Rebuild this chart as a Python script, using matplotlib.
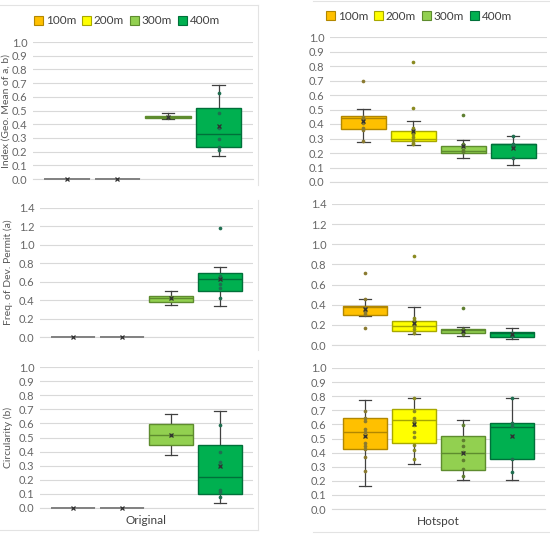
import numpy as np
import matplotlib
matplotlib.use('Agg')
import matplotlib.pyplot as plt
from matplotlib.lines import Line2D
from matplotlib.patches import Patch

plt.rcParams['font.family'] = ['Lato', 'DejaVu Sans']

W, H = 550, 542

series = ['100m', '200m', '300m', '400m']
fills = ['#FFC000', '#FFFF00', '#92D050', '#00B050']
edges = ['#B28700', '#A8A800', '#5E8C2E', '#00703A']
dots = ['#8A7A30', '#8A8A20', '#5E7E30', '#1F6E50']

# box stats per series: [whisker low, q1, median, q3, whisker high]
orig_index_box = [[0, 0, 0, 0, 0], [0, 0, 0, 0, 0],
                  [0.44, 0.448, 0.455, 0.462, 0.48], [0.17, 0.23, 0.33, 0.52, 0.685]]
orig_index_mean = [0, 0, 0.455, 0.385]
orig_index_pts = [[], [], [0.455], [0.625, 0.48, 0.37, 0.295, 0.235, 0.21]]

hot_index_box = [[0.275, 0.365, 0.44, 0.455, 0.505], [0.255, 0.285, 0.30, 0.355, 0.42],
                 [0.165, 0.20, 0.215, 0.25, 0.29], [0.12, 0.165, 0.26, 0.265, 0.315]]
hot_index_mean = [0.42, 0.35, 0.245, 0.235]
hot_index_pts = [[0.70, 0.45, 0.43, 0.41, 0.37, 0.36, 0.28],
                 [0.83, 0.51, 0.37, 0.355, 0.33, 0.31, 0.29, 0.27, 0.26],
                 [0.465, 0.26, 0.245, 0.22, 0.21],
                 [0.315, 0.26, 0.24, 0.165]]

orig_freq_box = [[0, 0, 0, 0, 0], [0, 0, 0, 0, 0],
                 [0.35, 0.38, 0.42, 0.45, 0.50], [0.34, 0.50, 0.63, 0.69, 0.76]]
orig_freq_mean = [0, 0, 0.42, 0.63]
orig_freq_pts = [[], [], [0.42], [1.18, 0.66, 0.64, 0.58, 0.53, 0.42]]

hot_freq_box = [[0.29, 0.30, 0.38, 0.39, 0.46], [0.11, 0.14, 0.19, 0.24, 0.375],
                [0.09, 0.12, 0.15, 0.16, 0.18], [0.055, 0.08, 0.115, 0.125, 0.165]]
hot_freq_mean = [0.36, 0.22, 0.14, 0.105]
hot_freq_pts = [[0.71, 0.46, 0.37, 0.35, 0.33, 0.31, 0.17],
                [0.88, 0.27, 0.25, 0.23, 0.21, 0.19, 0.16, 0.12],
                [0.37, 0.16, 0.14, 0.13, 0.11],
                [0.12, 0.10, 0.09]]

orig_circ_box = [[0, 0, 0, 0, 0], [0, 0, 0, 0, 0],
                 [0.378, 0.45, 0.52, 0.598, 0.667], [0.038, 0.097, 0.222, 0.45, 0.688]]
orig_circ_mean = [0, 0, 0.52, 0.30]
orig_circ_pts = [[], [], [0.52], [0.586, 0.397, 0.326, 0.296, 0.13, 0.113, 0.078]]

hot_circ_box = [[0.163, 0.426, 0.546, 0.643, 0.771], [0.319, 0.466, 0.629, 0.707, 0.787],
                [0.208, 0.277, 0.397, 0.515, 0.629], [0.208, 0.355, 0.584, 0.61, 0.787]]
hot_circ_mean = [0.515, 0.60, 0.40, 0.515]
hot_circ_pts = [[0.693, 0.645, 0.622, 0.570, 0.544, 0.515, 0.468, 0.444, 0.426, 0.366, 0.272],
                [0.787, 0.697, 0.645, 0.622, 0.593, 0.544, 0.508, 0.456, 0.421, 0.355],
                [0.593, 0.492, 0.444, 0.404, 0.350, 0.286, 0.236],
                [0.787, 0.61, 0.586, 0.518, 0.355, 0.262]]


def px_rect(l, t, r, b):
    return [l / W, 1 - b / H, (r - l) / W, (b - t) / H]


fig = plt.figure(figsize=(W / 100, H / 100), dpi=100)


def panel(rect, box, means, pts, ymax, step, ylabel=None, ylab_x=None, xlabel=None):
    ax = fig.add_axes(px_rect(*rect))
    pos = np.arange(1, 5)
    stats = []
    for b, m in zip(box, means):
        stats.append(dict(whislo=b[0], q1=b[1], med=b[2], q3=b[3], whishi=b[4],
                          mean=m, fliers=[]))
    bp = ax.bxp(stats, positions=pos, widths=0.9, patch_artist=True, showmeans=True,
                capwidths=0.25, showfliers=False,
                meanprops=dict(marker='x', markersize=3.5, markeredgecolor='#303030', markeredgewidth=0.9),
                whiskerprops=dict(color='#404040', lw=0.9), capprops=dict(color='#404040', lw=0.9))
    for i, b in enumerate(box):
        flat = b[3] - b[1] == 0
        ec = '#7a7a7a' if flat else edges[i]
        bp['boxes'][i].set(facecolor=fills[i], edgecolor=ec, linewidth=1.0, zorder=3)
        bp['medians'][i].set(color=ec, linewidth=1.3 if flat else 1, zorder=3.5, clip_on=False)
        bp['means'][i].set(zorder=5, clip_on=False)
        if flat:
            bp['whiskers'][2 * i].set_visible(False)
            bp['whiskers'][2 * i + 1].set_visible(False)
            bp['caps'][2 * i].set_visible(False)
            bp['caps'][2 * i + 1].set_visible(False)
        ax.scatter(np.full(len(pts[i]), pos[i]), pts[i], s=7, color=dots[i], zorder=4, lw=0)
    ax.set_xlim(0.33, 4.68)
    ax.set_ylim(0, ymax)
    ax.set_yticks(np.arange(0, ymax + step / 2, step))
    ax.yaxis.set_major_formatter(matplotlib.ticker.FormatStrFormatter('%.1f'))
    ax.grid(axis='y', color='#D9D9D9', lw=0.8)
    ax.set_axisbelow(True)
    ax.set_xticks([])
    for s in ['left', 'right', 'top']:
        ax.spines[s].set_visible(False)
    ax.spines['bottom'].set_color('#D9D9D9')
    ax.tick_params(axis='y', length=0, labelsize=8, labelcolor='#666666', pad=4)
    if ylabel:
        fig.text(ylab_x / W, 1 - ((rect[1] + rect[3]) / 2) / H, ylabel, rotation=90,
                 ha='center', va='center', fontsize=7.5, color='#595959')
    if xlabel:
        ax.set_xlabel(xlabel, fontsize=8.5, color='#404040', labelpad=5)
    return ax


panel((33, 42, 253, 179), orig_index_box, orig_index_mean, orig_index_pts, 1.0, 0.1,
      'Index (Geo. Mean of a, b)', 6)
panel((330, 37, 547, 182), hot_index_box, hot_index_mean, hot_index_pts, 1.0, 0.1)
panel((40, 208, 253, 337), orig_freq_box, orig_freq_mean, orig_freq_pts, 1.4, 0.2,
      'Freq. of Dev. Permit (a)', 8)
panel((332, 204, 545, 345), hot_freq_box, hot_freq_mean, hot_freq_pts, 1.4, 0.2)
panel((40, 367, 253, 508), orig_circ_box, orig_circ_mean, orig_circ_pts, 1.0, 0.1,
      'Circularity (b)', 8, 'Original')
panel((332, 368, 545, 509), hot_circ_box, hot_circ_mean, hot_circ_pts, 1.0, 0.1,
      None, None, 'Hotspot')

# legends
handles = [Patch(facecolor=f, edgecolor=e, lw=0.8) for f, e in zip(fills, edges)]
for cx, cy in [(127, 21), (419, 16)]:
    fig.legend(handles, series, loc='center', bbox_to_anchor=(cx / W, 1 - cy / H), ncol=4,
               frameon=False, fontsize=8.5, handlelength=0.8, handleheight=0.8,
               handletextpad=0.2, columnspacing=0.5, labelcolor='#404040')

# panel frames
frame = '#E3E3E3'
for x0, y0, x1, y1 in [(0, 5, 258, 5), (258, 5, 258, 185), (258, 200, 258, 350),
                       (258, 360, 258, 530), (0, 530, 258, 530),
                       (313, 1, 550, 1), (313, 532, 550, 532)]:
    fig.add_artist(Line2D([x0 / W, x1 / W], [1 - y0 / H, 1 - y1 / H], color=frame, lw=0.8))

fig.savefig('out.png', dpi=100, facecolor='white')
